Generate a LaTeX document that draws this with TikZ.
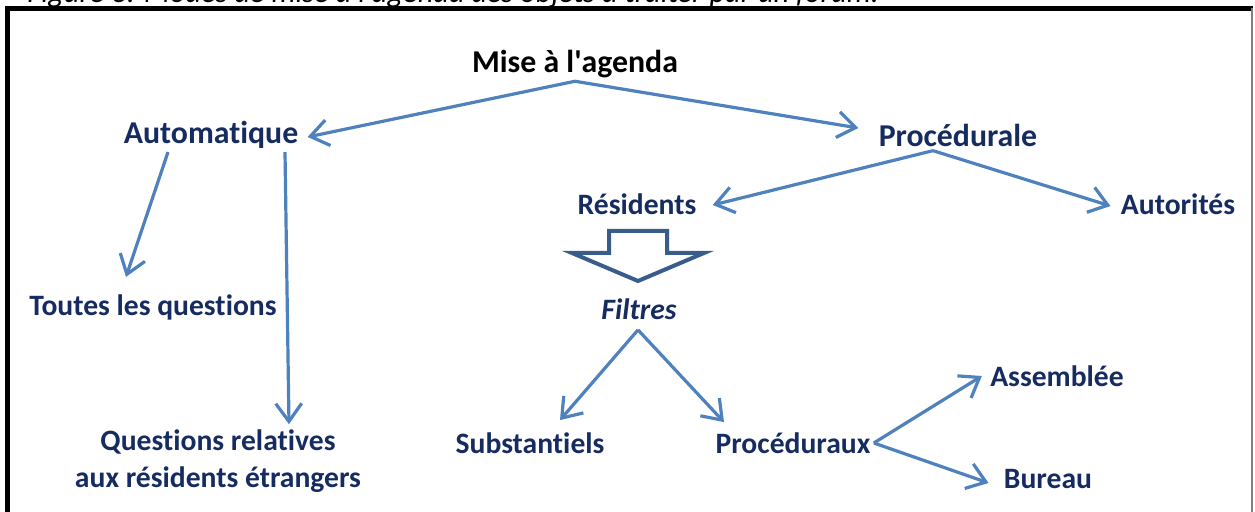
\documentclass[tikz,border=0pt]{standalone}
\usepackage{fontspec}
\setmainfont{Carlito}[Ligatures={NoCommon,NoContextual}]
\usetikzlibrary{arrows.meta}

\definecolor{labelblue}{RGB}{22,44,96}
\definecolor{arrowblue}{RGB}{79,129,189}
\definecolor{outlineblue}{RGB}{56,93,138}

\tikzset{
  lbl/.style={font=\fontsize{14.8}{17}\selectfont\bfseries, text=labelblue, inner sep=0pt},
  toplbl/.style={lbl, font=\fontsize{15.9}{18}\selectfont\bfseries},
  link/.style={draw=arrowblue, line width=1.6pt, -{Straight Barb[length=9pt,width=13pt]}},
}

\begin{document}
\begin{tikzpicture}[x=0.5pt,y=-0.5pt]
  \useasboundingbox (0,0) rectangle (1255,512);

  %% caption (cut by the page top)
  \node[anchor=base west, inner sep=0pt, font=\fontsize{15.2}{18}\selectfont\itshape]
  (caption) at (27,3) {Figure 3: Modes de mise à l\textquotesingle agenda des objets à traiter par un forum.};

  %% frame
  \draw[line width=2.5pt] (7.5,530) -- (7.5,8.5) -- (1253,8.5);
  \draw[gray, line width=0.8pt] (1252,8.5) -- (1252,530);

  %% nodes
  \node[toplbl, text=black] (mise) at (575,64) {Mise à l\textquotesingle agenda};
  \node[toplbl] (auto) at (211,135) {Automatique};
  \node[toplbl] (proc) at (958,135) {Procédurale};
  \node[lbl] (res)  at (637,204) {Résidents};
  \node[lbl] (aut)  at (1178,204) {Autorités};
  \node[lbl] (toutes) at (153,307) {Toutes les questions};
  \node[lbl, align=center, font=\fontsize{14.8}{18.5}\selectfont\bfseries]
  (quest) at (218,461) {Questions relatives\\aux résidents étrangers};
  \node[lbl, font=\fontsize{14.8}{17}\selectfont\bfseries\itshape] (filt) at (639,309) {Filtres};
  \node[lbl] (sub)  at (530,443) {Substantiels};
  \node[lbl] (pro)  at (793,443) {Procéduraux};
  \node[lbl] (ass)  at (1057,376) {Assemblée};
  \node[lbl] (bur)  at (1048,479) {Bureau};

  %% mise a l'agenda
  \draw[link] ([shift={(0,3)}]mise.south) -- ([shift={(9,2)}]auto.east);
  \draw[link] ([shift={(0,3)}]mise.south) -- ([shift={(-20,-7)}]proc.west);

  %% automatique
  \draw[link] ([shift={(-43,3)}]auto.south) -- ([shift={(-27,-17)}]toutes.north);
  \draw[link] ([shift={(74,3)}]auto.south) -- ([shift={(71,-5)}]quest.north);

  %% procedurale
  \draw[link] ([shift={(-25,4)}]proc.south) -- ([shift={(16,1)}]res.east);
  \draw[link] ([shift={(-25,4)}]proc.south) -- ([shift={(-10,2)}]aut.west);

  %% filtres (hollow arrow)
  \draw[outlineblue, line width=2pt, fill=white]
  (609,231) -- (667,231) -- (667,253) -- (704,253) -- (638,281)
  -- (572,253) -- (609,253) -- cycle;

  \draw[link] ([shift={(-1,10)}]filt.south) -- ([shift={(30,-12)}]sub.north);
  \draw[link] ([shift={(-1,10)}]filt.south) -- ([shift={(-69,-10)}]pro.north);

  %% proceduraux
  \draw[link] ([shift={(3,0)}]pro.east) -- ([shift={(-8,0)}]ass.west);
  \draw[link] ([shift={(3,0)}]pro.east) -- ([shift={(-15,4)}]bur.west);

\end{tikzpicture}
\end{document}
